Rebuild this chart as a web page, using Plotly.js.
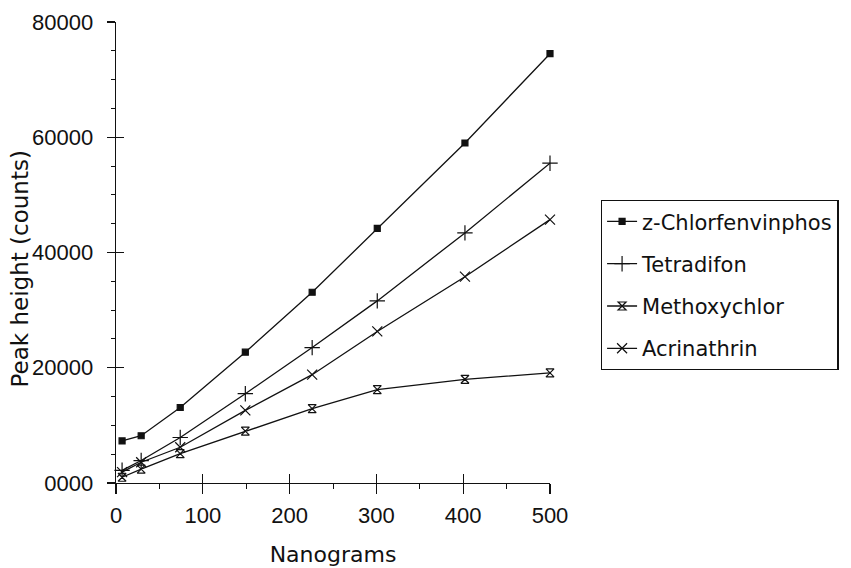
<!DOCTYPE html>
<html>
<head>
<meta charset="utf-8">
<script src="https://cdn.plot.ly/plotly-3.0.1.min.js"></script>
<style>
  html, body { margin: 0; padding: 0; background: #fff; }
  #chart { width: 851px; height: 568px; }
</style>
</head>
<body>
<div id="chart"></div>
<script>
// Nanograms injected
const nanograms = [7, 29, 74, 149, 226, 301, 402, 500];

// Peak heights (counts)
const chlorfenvinphos = [7300, 8200, 13100, 22700, 33100, 44200, 59000, 74500];
const tetradifon      = [2200, 3900, 7900, 15500, 23500, 31600, 43400, 55500];
const methoxychlor    = [1000, 2400, 5100, 9000, 12900, 16200, 18000, 19100];
const acrinathrin     = [1900, 3600, 6200, 12600, 18800, 26300, 35800, 45700];

const seriesNames = ["z-Chlorfenvinphos", "Tetradifon", "Methoxychlor", "Acrinathrin"];

const xTickVals = [0, 100, 200, 300, 400, 500];
const yTickVals = [0, 20000, 40000, 60000, 80000];
const yTickText = ["0000", "20000", "40000", "60000", "80000"];

const ink = "#111";
const lineW = 1.3;

function series(name, y, symbol, size, group) {
  return {
    x: nanograms, y: y, name: name, type: "scatter", mode: "lines+markers",
    legendgroup: group,
    line: { color: ink, width: lineW },
    marker: { symbol: symbol, size: size, color: ink, line: { color: ink, width: 1.2 } },
    cliponaxis: false
  };
}

const data = [
  series(seriesNames[0], chlorfenvinphos, "square", 6, "a"),
  series(seriesNames[1], tetradifon, "cross-thin-open", 11, "b"),
  series(seriesNames[2], methoxychlor, "hourglass-open", 8, "c"),
  series(seriesNames[3], acrinathrin, "x-thin-open", 10, "d"),
  { x: [], y: [], xaxis: "x2", yaxis: "y2", showlegend: false, hoverinfo: "skip", type: "scatter", mode: "markers" }
];

const tickFont = { family: "Liberation Sans", size: 22, color: ink };
const titleFont = { family: "DejaVu Sans", size: 22, color: ink };

const layout = {
  width: 851, height: 568,
  margin: { l: 116, r: 297, t: 22, b: 85 },
  paper_bgcolor: "#fff", plot_bgcolor: "#fff",
  showlegend: true,
  xaxis: {
    range: [0, 500], tickvals: xTickVals, ticks: "outside", ticklen: 10, tickwidth: 1.2, tickcolor: ink,
    showline: true, linecolor: ink, linewidth: lineW, showgrid: false, zeroline: false,
    tickfont: tickFont, ticklabelstandoff: 2,
    minor: { dtick: 50, tick0: 0, ticks: "outside", ticklen: 5, tickwidth: 1, tickcolor: ink, showgrid: false },
    title: { text: "Nanograms", font: titleFont, standoff: 20 },
    fixedrange: true, automargin: false
  },
  yaxis: {
    range: [0, 80000], tickvals: yTickVals, ticktext: yTickText, ticks: "outside", ticklen: 8, tickwidth: 1.2, tickcolor: ink,
    showline: true, linecolor: ink, linewidth: lineW, showgrid: false, zeroline: false,
    tickfont: tickFont, ticklabelstandoff: 9,
    minor: { dtick: 5000, tick0: 0, ticks: "outside", ticklen: 4, tickwidth: 1, tickcolor: ink, showgrid: false },
    fixedrange: true, automargin: false
  },
  xaxis2: {
    overlaying: "x", anchor: "y2", range: [0, 500], tickvals: xTickVals, ticks: "inside", ticklen: 9,
    tickwidth: 1.2, tickcolor: ink, showticklabels: false, showline: false, showgrid: false, zeroline: false, fixedrange: true
  },
  yaxis2: {
    overlaying: "y", anchor: "x2", range: [0, 80000], tickvals: yTickVals, ticks: "inside", ticklen: 8,
    tickwidth: 1.2, tickcolor: ink, showticklabels: false, showline: false, showgrid: false, zeroline: false, fixedrange: true
  },
  annotations: [{
    text: "Peak height (counts)", textangle: -90, font: { family: "DejaVu Sans", size: 23, color: ink },
    xref: "paper", yref: "paper", x: -0.2215, xanchor: "center", y: 0.465, yanchor: "middle", showarrow: false
  }],
  legend: {
    x: 1.117, xanchor: "left", y: 0.614, yanchor: "top",
    bordercolor: ink, borderwidth: 1.3, bgcolor: "#fff",
    font: { family: "DejaVu Sans", size: 21, color: ink },
    tracegroupgap: 12, itemwidth: 30
  }
};

Plotly.newPlot("chart", data, layout, { displayModeBar: false, staticPlot: true });
</script>
</body>
</html>
